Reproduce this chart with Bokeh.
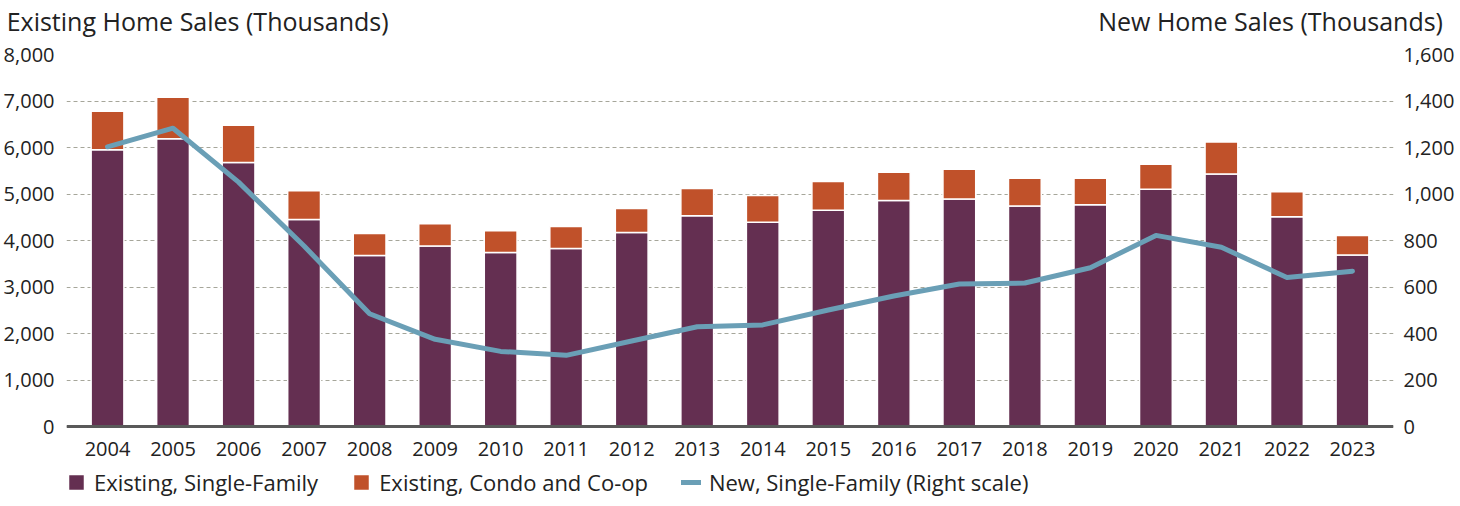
from bokeh.plotting import figure
from bokeh.models import (ColumnDataSource, Range1d, LinearAxis, FixedTicker,
                          NumeralTickFormatter, Legend, LegendItem)
from bokeh.embed import file_html
from bokeh.resources import INLINE

# ---------------- data ----------------
years = ["2004", "2005", "2006", "2007", "2008", "2009", "2010", "2011", "2012", "2013",
         "2014", "2015", "2016", "2017", "2018", "2019", "2020", "2021", "2022", "2023"]
existing_single_family = [5950, 6190, 5680, 4450, 3680, 3880, 3740, 3830, 4170, 4530,
                          4390, 4650, 4860, 4890, 4740, 4770, 5100, 5430, 4510, 3690]
existing_condo_coop = [830, 890, 800, 620, 470, 480, 470, 470, 520, 590,
                       580, 620, 610, 640, 600, 570, 540, 690, 540, 420]
new_single_family = [1203, 1283, 1051, 776, 485, 375, 323, 306, 368, 429,
                     437, 501, 561, 613, 617, 683, 822, 771, 641, 668]
left_ticks = [0, 1000, 2000, 3000, 4000, 5000, 6000, 7000, 8000]
right_ticks = [0, 200, 400, 600, 800, 1000, 1200, 1400, 1600]
left_title = "Existing Home Sales (Thousands)"
right_title = "New Home Sales (Thousands)"
legend_labels = ["Existing, Single-Family", "Existing, Condo and Co-op",
                 "New, Single-Family (Right scale)"]

# ---------------- style / layout ----------------
FONT = "Open Sans"
PURPLE = "#642F51"
ORANGE = "#C0512A"
BLUE = "#6A9FB6"
TEXT = "#222222"
GRID = "#A6A69A"

LEFT_B, RIGHT_B, TOP_B = 59, 58, 46
FRAME_W = 1327
PLOT_PX = 372          # pixels between value 0 and the top tick
BELOW_PX = 72          # pixels of frame kept below value 0 (tick labels + legend)
FRAME_H = PLOT_PX + BELOW_PX
TOTAL_W, TOTAL_H = LEFT_B + FRAME_W + RIGHT_B, TOP_B + FRAME_H
X_PAD = 0.626
TITLE_POS = [1.375, 17.75]   # centre positions (x data units) of the header texts

y0_left = -left_ticks[-1] * BELOW_PX / PLOT_PX
y0_right = -right_ticks[-1] * BELOW_PX / PLOT_PX

xs = list(range(len(years)))
src = ColumnDataSource(dict(x=xs, sf=existing_single_family,
                            condo=existing_condo_coop, new=new_single_family))

p = figure(width=TOTAL_W, height=TOTAL_H, frame_width=FRAME_W, frame_height=FRAME_H,
           x_range=Range1d(-X_PAD, len(years) - 1 + X_PAD),
           y_range=Range1d(y0_left, left_ticks[-1]),
           output_backend="svg", toolbar_location=None,
           min_border_left=LEFT_B, min_border_right=RIGHT_B,
           min_border_top=TOP_B, min_border_bottom=0,
           outline_line_color=None, background_fill_color="white")
p.extra_y_ranges = {"right": Range1d(y0_right, right_ticks[-1])}

bars = p.vbar_stack(["sf", "condo"], x="x", width=0.5, source=src,
                    fill_color=[PURPLE, ORANGE], line_color="white", line_width=1.5)
line = p.line("x", "new", source=src, y_range_name="right",
              line_color=BLUE, line_width=5, line_cap="round", line_join="round")


def plain(axis, size, standoff):
    axis.axis_line_color = None
    axis.major_tick_line_color = None
    axis.minor_tick_line_color = None
    axis.major_label_standoff = standoff
    axis.major_label_text_font = FONT
    axis.major_label_text_font_size = size
    axis.major_label_text_color = TEXT


# x axis, drawn at value 0
xa = p.xaxis[0]
plain(xa, "20px", 9)
xa.fixed_location = 0
xa.ticker = FixedTicker(ticks=xs)
xa.major_label_overrides = {i: y for i, y in enumerate(years)}
xa.axis_line_color = "#595959"
xa.axis_line_width = 3

# left axis
ya = p.yaxis[0]
plain(ya, "20px", 6)
ya.ticker = FixedTicker(ticks=left_ticks)
ya.formatter = NumeralTickFormatter(format="0,0")

# right axis
ra = LinearAxis(y_range_name="right", ticker=FixedTicker(ticks=right_ticks),
                formatter=NumeralTickFormatter(format="0,0"))
plain(ra, "20px", 4)
p.add_layout(ra, "right")

# header texts as labels of an axis above the frame
ta = LinearAxis(ticker=FixedTicker(ticks=TITLE_POS),
                major_label_overrides={TITLE_POS[0]: left_title,
                                       TITLE_POS[1]: right_title})
plain(ta, "25px", 11)
p.add_layout(ta, "above")

# grid
p.xgrid.grid_line_color = None
p.ygrid.ticker = FixedTicker(ticks=left_ticks)
p.ygrid.grid_line_color = GRID
p.ygrid.grid_line_dash = "4 3"
p.ygrid.grid_line_width = 1

legend = Legend(items=[LegendItem(label=legend_labels[0], renderers=[bars[0]]),
                       LegendItem(label=legend_labels[1], renderers=[bars[1]]),
                       LegendItem(label=legend_labels[2], renderers=[line])],
                orientation="horizontal", location=(0, 1),
                glyph_width=20, glyph_height=20, label_standoff=8, spacing=33,
                padding=0, margin=0, border_line_color=None,
                background_fill_alpha=0,
                label_text_font=FONT, label_text_font_size="22px",
                label_text_color=TEXT)
p.add_layout(legend, "center")

open("out.html", "w").write(file_html(p, INLINE))
